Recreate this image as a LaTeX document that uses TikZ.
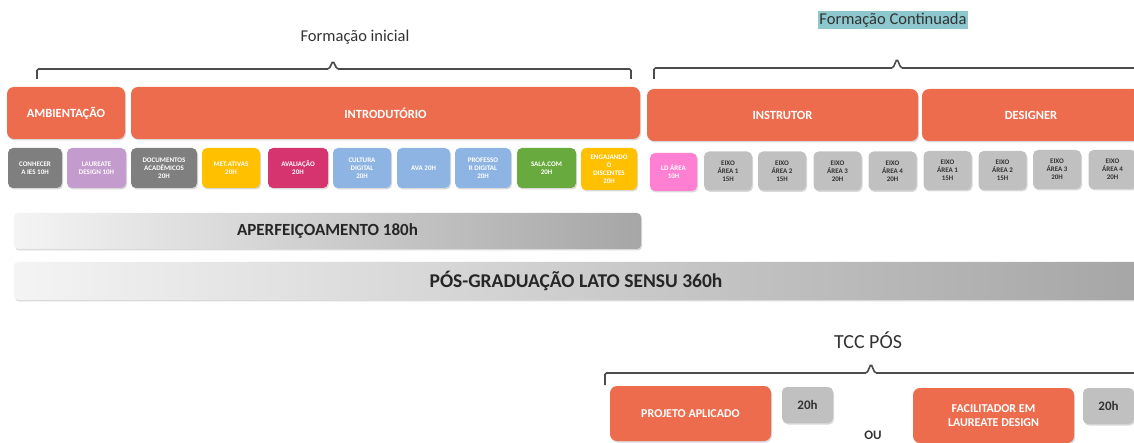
\documentclass[tikz,border=0pt]{standalone}
\usepackage{fontspec}
\setmainfont{Carlito}
\usetikzlibrary{shadows}

\definecolor{lcorange}{RGB}{237,108,77}
\definecolor{chipgray}{RGB}{127,127,127}
\definecolor{chiplilac}{RGB}{195,155,205}
\definecolor{chipyellow}{RGB}{255,192,0}
\definecolor{chipmagenta}{RGB}{214,52,110}
\definecolor{chipblue}{RGB}{141,180,226}
\definecolor{chipgreen}{RGB}{104,170,62}
\definecolor{chippink}{RGB}{255,128,210}
\definecolor{chiplight}{RGB}{192,192,192}
\definecolor{tealmark}{RGB}{140,200,206}
\definecolor{barlight}{RGB}{244,244,244}
\definecolor{bardark}{RGB}{166,166,166}

\tikzset{
  softshadow/.style={drop shadow={opacity=.3, shadow xshift=1pt, shadow yshift=-1.5pt}},
  bigbox/.style={fill=lcorange, rounded corners=7pt, text=white, softshadow,
    font=\bfseries\fontsize{12.5}{14}\selectfont},
  chip/.style={rounded corners=5pt, text=white, align=center, inner sep=1pt, softshadow,
    minimum height=40, font=\bfseries\fontsize{7}{8}\selectfont},
  eixo/.style={chip, fill=chiplight, text=black!80, minimum width=48, minimum height=39},
  bar/.style={rounded corners=4pt, left color=barlight, right color=bardark, softshadow,
    text=black!85, font=\bfseries},
  brace/.style={draw=black!70, line width=1.6pt, rounded corners=1.5pt},
  title/.style={text=black!80, font=\fontsize{16.5}{18}\selectfont},
}

\begin{document}
\begin{tikzpicture}[x=1pt, y=-1pt]
\useasboundingbox (0,0) rectangle (1134,443);

% Titles
\node[title] (tinicial) at (355,37) {Formação inicial};
\node[title, fill=tealmark, inner sep=1.5pt] (tcont) at (893,20) {Formação Continuada};

% Braces
\draw[brace] (37,79) -- (37,69) -- (329,69) -- (333,61) -- (337,69) -- (631,69) -- (631,79);
\draw[brace] (654,79) -- (654,68) -- (893,68) -- (897,59) -- (901,68) -- (1140,68);

% Big boxes
\node[bigbox, minimum width=118, minimum height=52] (amb) at (66,113) {AMBIENTAÇÃO};
\node[bigbox, minimum width=509, minimum height=52] (intro) at (385.5,113) {INTRODUTÓRIO};
\node[bigbox, minimum width=271, minimum height=52] (instr) at (782.5,115) {INSTRUTOR};
\node[bigbox, minimum width=218, minimum height=52] (design) at (1031,115) {DESIGNER};

% Formacao inicial modules
\node[chip, fill=chipgray, minimum width=54] (conhecer) at (35,168) {CONHECER\\A IES 10H};
\node[chip, fill=chiplilac, minimum width=59] (laureate) at (96.5,168) {LAUREATE\\DESIGN 10H};
\node[chip, fill=chipgray, minimum width=66] (docs) at (164,168) {DOCUMENTOS\\ACADÊMICOS\\20H};
\node[chip, fill=chipyellow, minimum width=58] (metat) at (231,168) {MET.ATIVAS\\20H};
\node[chip, fill=chipmagenta, minimum width=60] (aval) at (298,168) {AVALIAÇÃO\\20H};
\node[chip, fill=chipblue, minimum width=58] (cultura) at (362,168) {CULTURA\\DIGITAL\\20H};
\node[chip, fill=chipblue, minimum width=53] (ava) at (423.5,168) {AVA 20H};
\node[chip, fill=chipblue, minimum width=56] (prof) at (483,168) {PROFESSO\\R DIGITAL\\20H};
\node[chip, fill=chipgreen, minimum width=59] (sala) at (546.5,168) {SALA.COM\\20H};
\node[chip, fill=chipyellow, minimum width=56, minimum height=42] (engaj) at (609,169) {ENGAJANDO\\O\\DISCENTES\\20H};

% Formacao continuada modules
\node[chip, fill=chippink, minimum width=47, minimum height=38] (ldarea) at (673.5,172) {LD ÁREA\\10H};
\node[eixo] (ia) at (728,171) {EIXO\\ÁREA 1\\15H};
\node[eixo] (ib) at (782,171) {EIXO\\ÁREA 2\\15H};
\node[eixo] (ic) at (837.5,171) {EIXO\\ÁREA 3\\20H};
\node[eixo] (id) at (892.5,171) {EIXO\\ÁREA 4\\20H};
\node[eixo] (da) at (947.5,170.5) {EIXO\\ÁREA 1\\15H};
\node[eixo] (db) at (1002.5,170.5) {EIXO\\ÁREA 2\\15H};
\node[eixo] (dc) at (1057,169.5) {EIXO\\ÁREA 3\\20H};
\node[eixo] (dd) at (1112.5,169.5) {EIXO\\ÁREA 4\\20H};

% Bars
\node[bar, minimum width=627, minimum height=36, font=\bfseries\fontsize{17}{19}\selectfont] (aperf) at (327.5,231) {APERFEIÇOAMENTO 180h};
\node[bar, minimum width=1124, minimum height=38, font=\bfseries\fontsize{19.5}{21}\selectfont] (posgrad) at (576,281) {PÓS-GRADUAÇÃO LATO SENSU 360h};

% TCC
\node[title, font=\fontsize{20}{22}\selectfont] (tcc) at (868,340) {TCC PÓS};
\draw[brace] (605,385) -- (605,373) -- (867,373) -- (871,364) -- (875,373) -- (1140,373);

\node[bigbox, minimum width=161, minimum height=55, font=\bfseries\fontsize{12}{14}\selectfont] (projeto) at (690.5,413.5) {PROJETO APLICADO};
\node[chip, fill=chiplight, text=black!80, minimum width=51, minimum height=36, font=\bfseries\fontsize{13}{14}\selectfont] (hproj) at (807.5,405) {20h};
\node[bigbox, minimum width=161, minimum height=55, align=center, font=\bfseries\fontsize{12}{14}\selectfont] (facil) at (993.5,415.5) {FACILITADOR EM\\LAUREATE DESIGN};
\node[chip, fill=chiplight, text=black!80, minimum width=51, minimum height=36, font=\bfseries\fontsize{13}{14}\selectfont] (hfacil) at (1108.5,406) {20h};
\node[text=black!80, inner sep=1pt, font=\bfseries\fontsize{13}{15}\selectfont] (ou) at (873,435) {OU};

\end{tikzpicture}
\end{document}
